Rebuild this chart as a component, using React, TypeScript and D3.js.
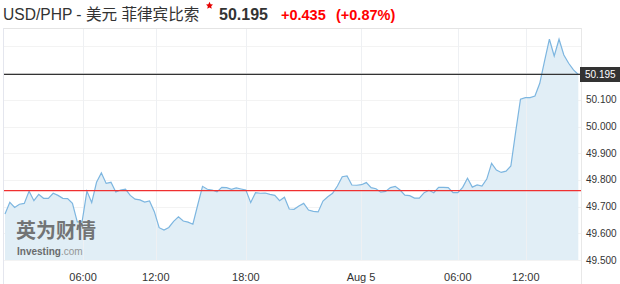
import React from "react";
import * as d3 from "d3";

const prices: number[] = [
  49.672, 49.716, 49.697, 49.709, 49.712, 49.758, 49.722, 49.746, 49.731, 49.731,
  49.750, 49.742, 49.731, 49.730, 49.712, 49.643, 49.643, 49.758, 49.715, 49.791,
  49.826, 49.787, 49.791, 49.755, 49.762, 49.765, 49.742, 49.728, 49.725, 49.717,
  49.721, 49.681, 49.621, 49.612, 49.622, 49.645, 49.662, 49.646, 49.642, 49.634,
  49.706, 49.776, 49.765, 49.762, 49.755, 49.772, 49.771, 49.765, 49.770, 49.766,
  49.762, 49.715, 49.752, 49.750, 49.751, 49.746, 49.742, 49.722, 49.735, 49.691,
  49.690, 49.702, 49.712, 49.687, 49.682, 49.680, 49.721, 49.737, 49.750, 49.777,
  49.812, 49.815, 49.781, 49.780, 49.782, 49.790, 49.771, 49.767, 49.754, 49.757,
  49.771, 49.776, 49.762, 49.743, 49.741, 49.732, 49.732, 49.752, 49.761, 49.752,
  49.772, 49.772, 49.771, 49.752, 49.752, 49.772, 49.806, 49.773, 49.781, 49.777,
  49.803, 49.862, 49.837, 49.828, 49.833, 49.852, 49.980, 50.102, 50.108, 50.108,
  50.114, 50.162, 50.246, 50.327, 50.264, 50.327, 50.268, 50.237, 50.212, 50.195,
];

const xTickPos: number[] = [16.2, 31.3, 50, 73.9, 94, 108.1];
const xTickLabels: string[] = ["06:00", "12:00", "18:00", "Aug 5", "06:00", "12:00"];
const yGridValues: number[] = [49.5, 49.6, 49.7, 49.8, 49.9, 50.0, 50.1, 50.2, 50.3];
const yLabelValues: number[] = [49.5, 49.6, 49.7, 49.8, 49.9, 50.0, 50.1];

const prevClose = 49.76;
const lastPrice = 50.195;
const title = "USD/PHP - 美元 菲律宾比索";
const lastText = "50.195";
const changeText = "+0.435";
const changePctText = "(+0.87%)";

const FONT = "'Liberation Sans', Arial, 'Noto Sans CJK SC', sans-serif";

export default function App() {
  const W = 620, H = 284;
  const x = d3.scaleLinear().domain([0, prices.length - 1]).range([5, 578.3]);
  const y = d3.scaleLinear().domain([49.5, 50.369]).range([260, 28]);

  const line = d3.line<number>().x((_, i) => x(i)).y((d) => y(d));
  const area = d3
    .area<number>()
    .x((_, i) => x(i))
    .y0(y(49.5))
    .y1((d) => y(d));

  return (
    <svg
      width={W}
      height={H}
      style={{ position: "absolute", left: 0, top: 0, fontFamily: FONT }}
    >
      <rect x={0} y={0} width={W} height={H} fill="#fff" />
      {/* header */}
      <text x={3} y={20} fontSize={15.6} fill="#333">{title}</text>
      <path d="M209.5,1.8 L210.6,4.2 L213,4.6 L211.2,6.3 L211.7,8.8 L209.5,7.6 L207.3,8.8 L207.8,6.3 L206,4.6 L208.4,4.2 Z" fill="#e60000" />
      <text x={219} y={20} fontSize={16} fontWeight="bold" fill="#333">{lastText}</text>
      <text x={281} y={20} fontSize={14.5} fontWeight="bold" fill="#f00">{changeText}</text>
      <text x={336} y={20} fontSize={14.5} fontWeight="bold" fill="#f00">{changePctText}</text>

      {/* frame */}
      <line x1={3} x2={582} y1={28.5} y2={28.5} stroke="#e4e4e4" />
      <line x1={3.5} x2={3.5} y1={28} y2={284} stroke="#e4e6ee" />
      <line x1={581.5} x2={581.5} y1={28} y2={284} stroke="#e8e8e8" />

      {/* grid */}
      {yGridValues.map((v) => (
        <line key={"h" + v} x1={4} x2={581} y1={Math.round(y(v)) + 0.5} y2={Math.round(y(v)) + 0.5} stroke="#f3f3f3" />
      ))}

      {/* area and line */}
      <path d={area(prices) || ""} fill="#e1eef6" />
      {xTickPos.map((p, i) => (
        <line key={"v" + i} x1={Math.round(x(p)) + 0.5} x2={Math.round(x(p)) + 0.5} y1={29} y2={260} stroke="#eef0f3" />
      ))}
      <path d={line(prices) || ""} fill="none" stroke="#7db6e0" strokeWidth={1.2} />

      {/* reference lines */}
      <line x1={4} x2={581} y1={y(prevClose)} y2={y(prevClose)} stroke="#f03030" strokeWidth={1.2} />
      <line x1={4} x2={581} y1={y(lastPrice)} y2={y(lastPrice)} stroke="#333" strokeWidth={1.2} />

      {/* y labels */}
      {yLabelValues.map((v) => (
        <text key={"yl" + v} x={586} y={y(v) + 3.5} fontSize={10} fill="#333">{v.toFixed(3)}</text>
      ))}
      <rect x={580} y={67} width={40} height={15} fill="#333" />
      <text x={585} y={y(lastPrice) + 3.5} fontSize={10} fill="#fff">{lastPrice.toFixed(3)}</text>

      {/* x labels */}
      {xTickPos.map((p, i) => (
        <text key={"xl" + i} x={x(p)} y={281} fontSize={11} fill="#333" textAnchor="middle">{xTickLabels[i]}</text>
      ))}

      {/* watermark */}
      <g opacity={0.85}>
        <text x={16} y={238} fontSize={20} fontWeight="bold" fill="#5f5f5f" fontFamily="'Noto Sans CJK SC', sans-serif">英为财情</text>
        <text x={17} y={255} fontSize={10} fontWeight="bold" fill="#555">Investing<tspan fontWeight="normal" fill="#888">.com</tspan></text>
      </g>
    </svg>
  );
}
